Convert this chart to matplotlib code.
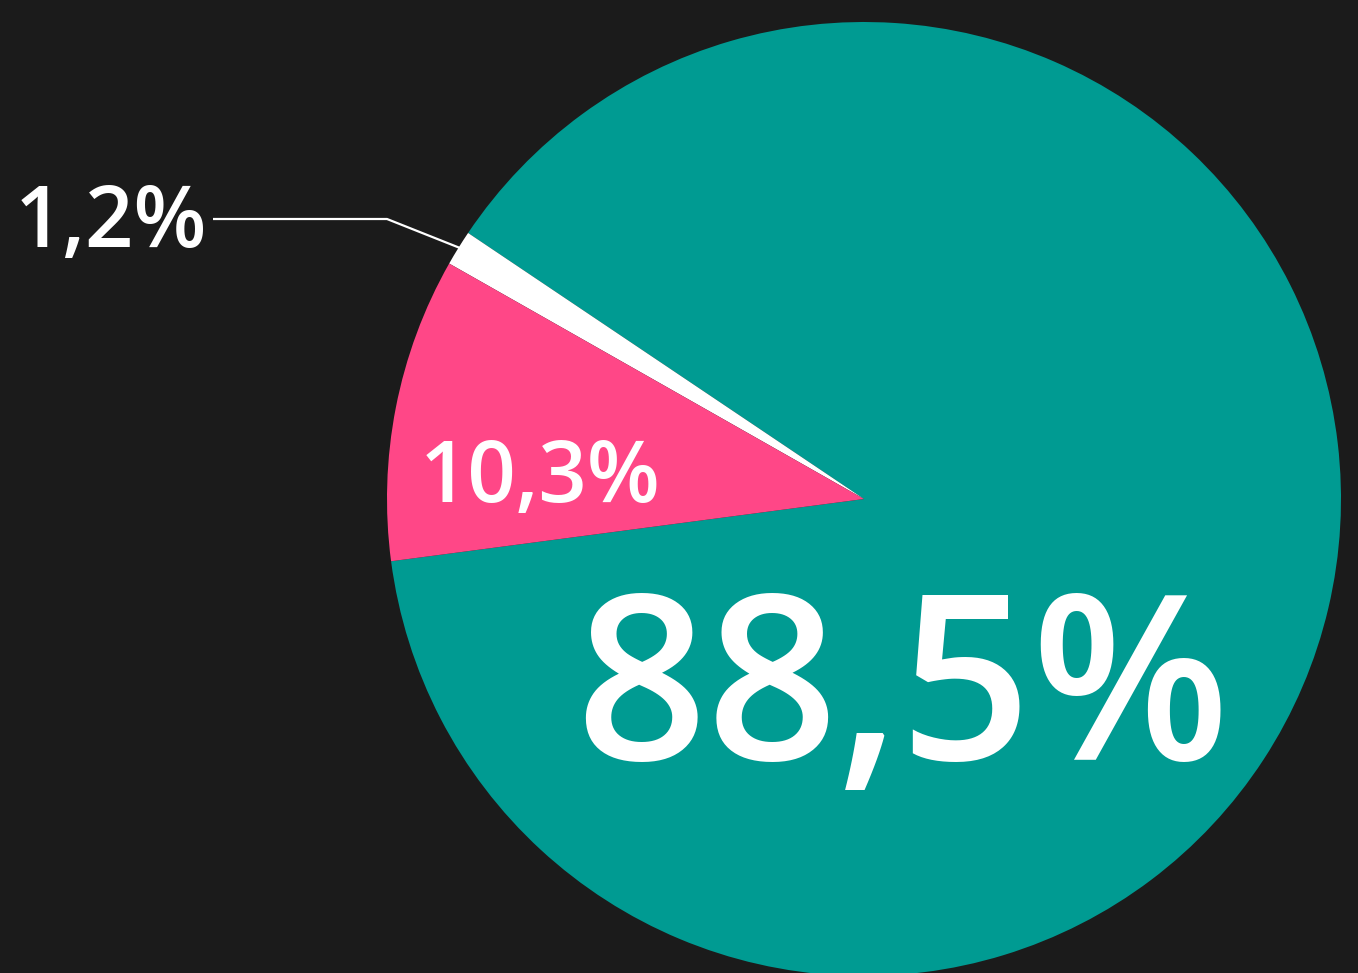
#!/usr/bin/env python3
# -*- coding: utf-8 -*-

import matplotlib
matplotlib.use("Agg")
import matplotlib.pyplot as plt

# dados
shares = [88.5, 1.2, 10.3]
labels = ["88,5%", "1,2%", "10,3%"]
colors = ["#009B92", "#FFFFFF", "#FF4787"]

W, H = 1358, 973
BG = "#1b1b1b"

def py(y):
    # pixel (a partir do topo) -> coordenada de dados
    return H - y

fig = plt.figure(figsize=(W / 100, H / 100), dpi=100, facecolor=BG)
ax = fig.add_axes([0, 0, 1, 1])
ax.set_facecolor(BG)

ax.pie(shares, colors=colors, startangle=187.5, counterclock=True,
       center=(864, py(499)), radius=477,
       wedgeprops=dict(linewidth=0))

ax.set_xlim(0, W)
ax.set_ylim(0, H)
ax.set_aspect("auto")
ax.set_axis_off()

font = dict(family=["Open Sans", "DejaVu Sans"], color="white", fontweight="semibold")

# rótulos
ax.text(903, py(760), labels[0], ha="center", va="baseline", fontsize=166, **font)
ax.text(540, py(502), labels[2], ha="center", va="baseline", fontsize=61, **font)
ax.text(111, py(247), labels[1], ha="center", va="baseline", fontsize=61, **font)

# linha guia do 1,2%
ax.plot([213, 387, 460], [py(219), py(219), py(248)], color="white", lw=1.6,
        solid_capstyle="butt")

fig.savefig("out.png", dpi=100, facecolor=BG)
